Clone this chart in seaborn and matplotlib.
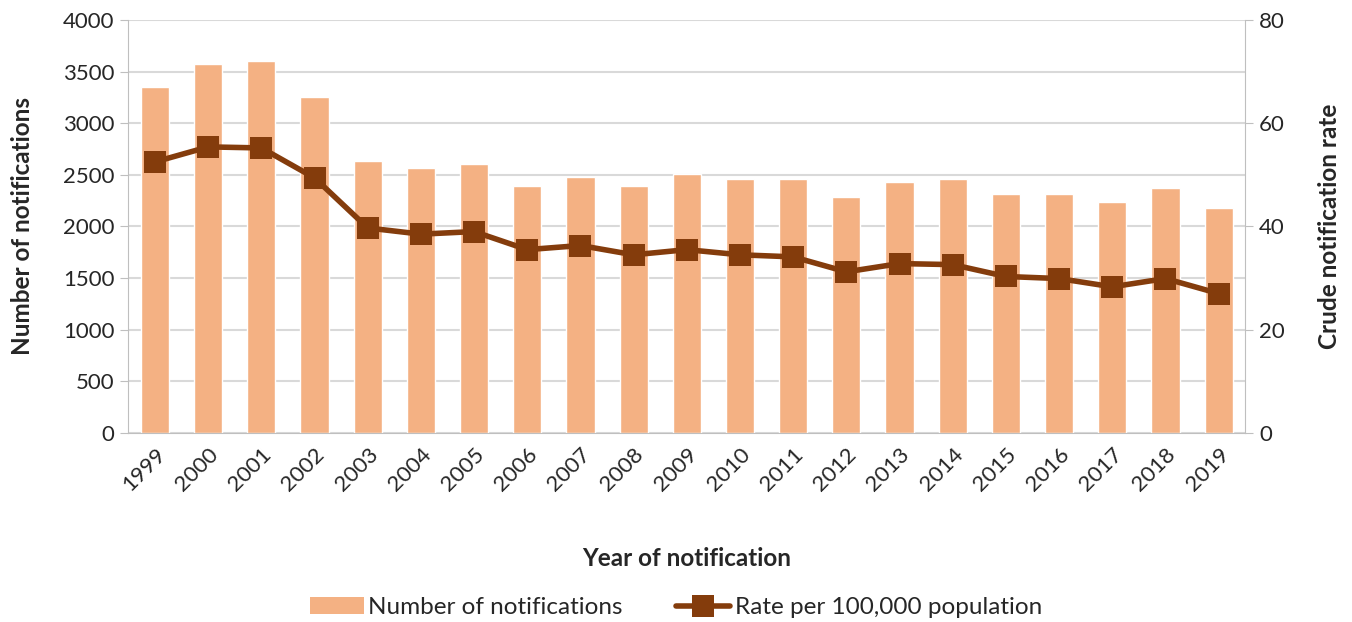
import numpy as np
import pandas as pd
import matplotlib
matplotlib.use("Agg")
import matplotlib.pyplot as plt
import seaborn as sns
from matplotlib.patches import Patch
from matplotlib.lines import Line2D

# Donnees
years = [str(y) for y in range(1999, 2020)]
notifications = [3348, 3574, 3603, 3257, 2634, 2564, 2605, 2392, 2476, 2395, 2505,
                 2460, 2460, 2283, 2431, 2457, 2312, 2312, 2237, 2373, 2179]
rates = [52.5, 55.4, 55.2, 49.4, 39.7, 38.5, 39.0, 35.5, 36.3, 34.5, 35.5,
         34.5, 34.1, 31.2, 32.8, 32.6, 30.3, 29.9, 28.3, 29.9, 27.0]

bar_color = "#F4B183"
line_color = "#843C0C"
grid_color = "#D9D9D9"
axis_color = "#BFBFBF"

sns.set_style("white")
plt.rcParams["font.family"] = ["Lato", "DejaVu Sans"]

df = pd.DataFrame({"year": years, "n": notifications, "rate": rates})

fig = plt.figure(figsize=(13.52, 6.22), dpi=100)
ax = fig.add_axes([0.095, 0.304, 0.826, 0.664])

sns.barplot(data=df, x="year", y="n", color=bar_color, width=0.53,
            saturation=1, ax=ax, zorder=2)
ax.set_ylim(0, 4000)
ax.set_yticks(range(0, 4001, 500))
ax.yaxis.grid(True, color=grid_color, linewidth=1.5, zorder=0)
ax.set_axisbelow(True)
ax.set_xlim(-0.5, len(years) - 0.5)

ax2 = ax.twinx()
sns.pointplot(data=df, x="year", y="rate", color=line_color, markers="s",
              markersize=16, markeredgewidth=0, linewidth=4, errorbar=None, ax=ax2)
ax2.set_ylim(0, 80)
ax2.set_yticks(range(0, 81, 20))
ax2.set_xlim(-0.5, len(years) - 0.5)

# axes a la Excel
for a in (ax, ax2):
    for s in a.spines.values():
        s.set_visible(False)
ax.spines["left"].set_visible(True)
ax.spines["left"].set_color(axis_color)
ax.spines["bottom"].set_visible(True)
ax.spines["bottom"].set_color(axis_color)
ax2.spines["right"].set_visible(True)
ax2.spines["right"].set_color(axis_color)

ax.set_xticks(range(len(years)))
ax.set_xticklabels(years, rotation=45, ha="right", rotation_mode="anchor")
ax.set_xticks(np.arange(-0.5, len(years)), minor=True)
ax.tick_params(axis="x", which="major", length=0, labelsize=16, pad=8)
ax.tick_params(axis="x", which="minor", length=6, color=axis_color, width=1.2)
ax.tick_params(axis="y", length=6, color=axis_color, labelsize=16, pad=4)
ax2.tick_params(axis="y", length=6, color=axis_color, labelsize=16, pad=4)

ax.set_xlabel("Year of notification", fontsize=17.5, fontweight="bold", labelpad=38)
ax.set_ylabel("Number of notifications", fontsize=17.5, fontweight="bold", labelpad=21)
ax2.set_ylabel("Crude notification rate", fontsize=17.5, fontweight="bold", labelpad=24)

handles = [Patch(facecolor=bar_color, edgecolor="none"),
           Line2D([], [], color=line_color, linewidth=4, marker="s", markersize=16,
                  markeredgewidth=0)]
fig.legend(handles, ["Number of notifications", "Rate per 100,000 population"],
           loc="center", bbox_to_anchor=(0.5, 0.023), ncol=2, frameon=False,
           fontsize=17.5, handlelength=2.2, columnspacing=2.2, handletextpad=0.2)

fig.savefig("out.png", dpi=100)
